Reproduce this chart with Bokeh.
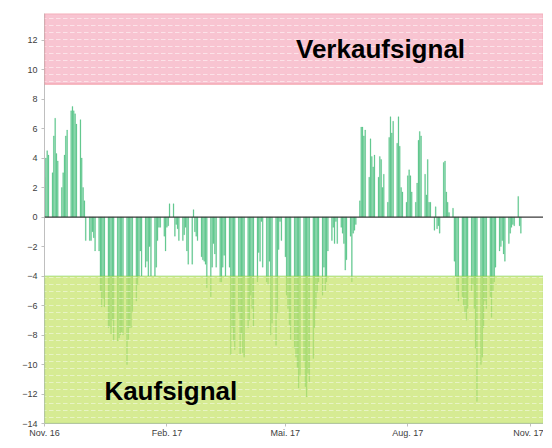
import pandas as pd
from bokeh.plotting import figure
from bokeh.models import BoxAnnotation, Span, Label, FixedTicker, Range1d, ColumnDataSource
from bokeh.embed import file_html
from bokeh.resources import INLINE

# ---- data ----
start_date = "2016-11-01"
seg_nov_dec = [2.7, 4.0, 4.5, 4.2, 3.0, 5.5, 6.7, 4.3, 3.8, 2.0, 3.0, 4.2, 5.5, 5.9, 7.2, 7.5, 7.2, 7.0, 6.3, 6.6, 4.0, 2.0, 1.1]
seg_dec_jan = [-1.6, -1.6, -1.6, -1.0, -1.4, -2.3, -2.3, -5.0, -6.1, -5.5, -6.1, -7.5, -7.4, -7.9, -7.0, -8.4, -8.4, -8.2, -8.0, -7.8]
seg_jan_mar = [-8.0, -10.0, -8.3, -7.5, -7.5, -6.4, -5.7, -4.6, -4.0, -2.3, -4.0, -3.4, -3.0, -4.0, -2.0, -4.0, -4.0, -3.4, -1.6, -0.7,
               -0.7, -1.3, -2.3, -0.7, -0.6, 0.9, 0.9, -1.3, -0.5, -0.8, -1.6, -1.6, -1.2, -0.7, -2.3, -3.2, -3.2, 0.5, -1.0, -1.3,
               -1.6, -2.7, -2.9]
seg_mar_may = [-3.0, -3.2, -4.8, -5.4, -3.4, -1.8, -2.5, -3.4, -4.4, -4.4, -3.4, -2.6, -4.0, -3.4, -9.3, -7.5, -8.4, -9.0, -6.5, -9.3,
               -7.9, -9.2, -9.5, -7.5, -7.0, -5.3, -6.2, -7.4, -4.4, -2.4, -3.0, -0.3, -3.4, -4.4, -4.6, -3.0, -8.0, -7.2, -8.7, -6.5,
               -2.2, -0.3, -1.6]
seg_may_jul = [-2.7, -5.3, -6.2, -7.3, -8.3, -8.9, -9.5, -10.2, -11.6, -10.7, -9.8, -11.5, -12.2, -10.6, -11.2, -9.6, -7.5, -6.2, -5.1, -4.4,
               -5.3, -3.4, -5.0, -4.4, -2.3, -1.6, -0.7, -1.8, -0.3, -1.8, -0.7, -1.1, -1.8, -3.6, -2.9, -1.3, -4.4, -1.1, -0.9, -0.5,
               1.1, 6.1, 6.1]
seg_jul_sep = [5.5, 5.9, 2.7, 5.3, 4.1, 3.4, 4.2, 2.7, 4.1, 3.9, 2.0, 2.9, 1.0, 5.4, 6.8, 5.7, 6.5, 5.0, 6.8, 4.8,
               2.0, 1.7, 1.0, 2.8, 3.2, 2.8, 1.7, 1.0, 2.3, 5.2, 5.8, 5.5, 2.9, 1.5, 3.9, 1.0, 1.0, -0.9, 0.7, -0.8,
               -0.6, -1.1, 3.7]
seg_sep_oct = [3.8, 1.7, 1.0, 0.3, 0.6, -3.0, -4.0, -5.0, -5.7, -5.4, -6.0, -6.5, -7.0, -6.2, -5.0, -4.6, -6.2, -8.9, -12.5, -10.0,
               -9.5, -7.5, -5.7, -6.2, -5.4, -6.8, -5.0, -4.4, -3.4, -2.3, -2.0, -1.6, -2.5, -3.0, -1.8, -1.1, -0.7, -0.5, -0.6, 1.4,
               -0.6, -1.1]

tick_dates = ["2016-11-01", "2017-02-01", "2017-05-01", "2017-08-01", "2017-11-01"]
tick_labels = ["Nov. 16", "Feb. 17", "Mai. 17", "Aug. 17", "Nov. 17"]
y_ticks = [-14, -12, -10, -8, -6, -4, -2, 0, 2, 4, 6, 8, 10, 12]
sell_level = 9
buy_level = -4
y_min, y_max = -14, 13.8
x_end = "2017-11-11"

values = seg_nov_dec + seg_dec_jan + seg_jan_mar + seg_mar_may + seg_may_jul + seg_jul_sep + seg_sep_oct
dates = pd.bdate_range(start_date, periods=len(values))
source = ColumnDataSource(data=dict(date=dates, value=values))

DAY = 86400000

p = figure(x_axis_type="datetime", width=543, height=440,
           x_range=Range1d(pd.Timestamp(start_date), pd.Timestamp(x_end)),
           y_range=Range1d(y_min, y_max),
           output_backend="svg", toolbar_location=None,
           min_border_left=44, min_border_right=0, min_border_top=13, min_border_bottom=15)
p.outline_line_color = None
p.xgrid.visible = False
p.ygrid.visible = False
p.background_fill_color = "white"

p.vbar(x="date", top="value", bottom=0, width=0.6 * DAY, source=source,
       fill_color="#35b870", line_color="#35b870", line_width=0.3, fill_alpha=0.85, line_alpha=0.8)

sell_box = BoxAnnotation(bottom=sell_level, fill_color="#f8c4d1", fill_alpha=1.0,
                         line_color="#e8424f", line_width=1.5,
                         hatch_pattern="horizontal_dash", hatch_color="white", hatch_alpha=0.5,
                         hatch_scale=7, hatch_weight=1)
buy_box = BoxAnnotation(top=buy_level, fill_color="#c6e36a", fill_alpha=0.72,
                        line_color="#6ccf4f", line_width=1.5,
                        hatch_pattern="horizontal_dash", hatch_color="white", hatch_alpha=0.45,
                        hatch_scale=7, hatch_weight=1)
p.add_layout(sell_box)
p.add_layout(buy_box)

p.add_layout(Span(location=0, dimension="width", line_color="#3a3a3a", line_width=1.3))

p.add_layout(Label(x=pd.Timestamp("2017-05-09").value / 1e6, y=11.4, text="Verkaufsignal",
                   text_font="Liberation Sans", text_font_style="bold", text_font_size="26px",
                   text_color="black", text_baseline="middle"))
p.add_layout(Label(x=pd.Timestamp("2016-12-16").value / 1e6, y=-11.8, text="Kaufsignal",
                   text_font="Liberation Sans", text_font_style="bold", text_font_size="26px",
                   text_color="black", text_baseline="middle"))

tick_ms = [pd.Timestamp(d).value / 1e6 for d in tick_dates]
p.xaxis.ticker = FixedTicker(ticks=tick_ms)
p.xaxis.major_label_overrides = {t: l for t, l in zip(tick_ms, tick_labels)}
p.yaxis.ticker = FixedTicker(ticks=y_ticks)

for ax in (p.xaxis[0], p.yaxis[0]):
    ax.axis_line_color = "#bfbfbf"
    ax.major_tick_line_color = "#bfbfbf"
    ax.major_tick_out = 3
    ax.major_tick_in = 0
    ax.minor_tick_line_color = None
    ax.major_label_text_font = "Liberation Sans"
    ax.major_label_text_font_size = "9px"
    ax.major_label_text_color = "#404040"
p.yaxis.major_label_standoff = 4
p.xaxis.major_label_standoff = 1

open("out.html", "w").write(file_html(p, INLINE))
